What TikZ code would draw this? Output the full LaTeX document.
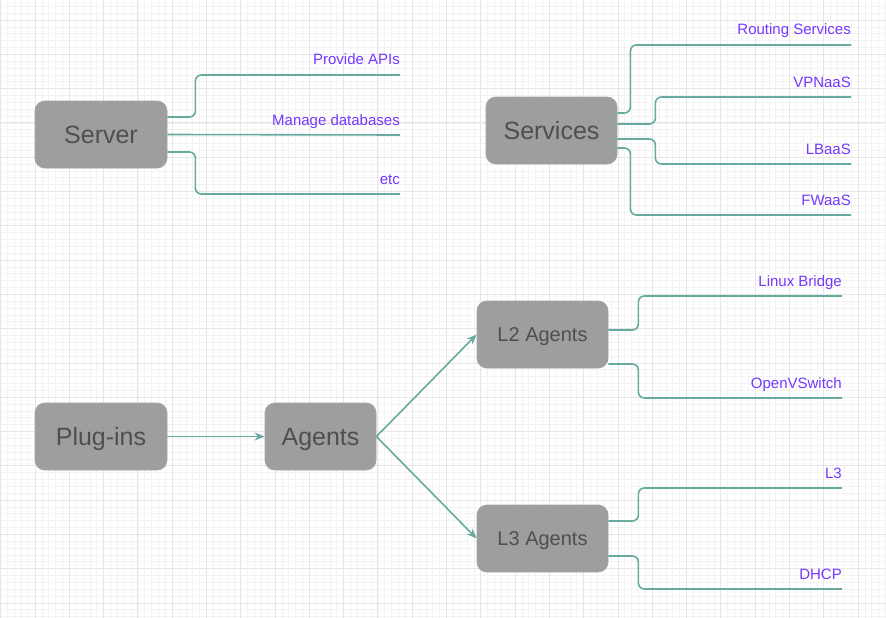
\documentclass[tikz,border=0pt]{standalone}
\usepackage{fontspec}
\setmainfont{Liberation Sans}
\usetikzlibrary{arrows.meta}
\definecolor{linkgreen}{HTML}{67AB9F}
\definecolor{labelpurple}{HTML}{7438FF}
\definecolor{boxgray}{HTML}{9E9E9E}
\definecolor{boxedge}{HTML}{A4A4A4}
\definecolor{boxtext}{HTML}{4F4F4F}
\definecolor{minorline}{HTML}{F3F3F3}
\definecolor{majorline}{HTML}{E6E6E6}

\begin{document}
\begin{tikzpicture}[x=1pt, y=-1pt,
        box/.style={draw=boxedge, fill=boxgray, rounded corners=10pt, line width=0.8pt,
            minimum width=132pt, minimum height=67pt, inner sep=0pt,
            text height=18pt, text depth=0pt,
            text=boxtext, font=\fontsize{25}{30}\selectfont},
        small/.style={font=\fontsize{20}{24}\selectfont, text height=14.3pt},
        branch/.style={draw=linkgreen, line width=1.6pt, rounded corners=6pt},
        link/.style={draw=linkgreen, line width=1.6pt, -{Stealth[length=10pt, width=8pt]}},
        leaf/.style={text=labelpurple, font=\fontsize{15}{18}\selectfont, anchor=base east, inner sep=0pt}]
        \useasboundingbox (0, 0) rectangle (886, 618);
        \fill[white] (0, 0) rectangle (886, 618);
        \foreach \i in {0,...,129}
            \draw[minorline, line width=0.6pt] ({0.7+\i*6.858}, 0) -- ({0.7+\i*6.858}, 618);
        \foreach \i in {0,...,89}
            \draw[minorline, line width=0.6pt] (0, {6.27+\i*6.858}) -- (886, {6.27+\i*6.858});
        \foreach \i in {0,...,25}
            \draw[majorline, line width=0.8pt] ({0.7+\i*34.29}, 0) -- ({0.7+\i*34.29}, 618);
        \foreach \i in {0,...,17}
            \draw[majorline, line width=0.8pt] (0, {20+\i*34.29}) -- (886, {20+\i*34.29});

        \node[box] (server) at (101, 134.5) {Server};
        \node[box, minimum width=131pt] (services) at (551.5, 130.5) {Services};
        \node[box] (plugins) at (101, 436.5) {Plug-ins};
        \node[box, minimum width=111pt] (agents) at (320.5, 436.5) {Agents};
        \node[box, small, minimum width=131pt] (ltwo) at (542.5, 334.5) {L2 Agents};
        \node[box, small, minimum width=131pt] (lthree) at (542.5, 538.5) {L3 Agents};

        \coordinate (apis) at (400, 75);
        \coordinate (databases) at (400, 135);
        \coordinate (etc) at (400, 194);
        \coordinate (routing) at (851, 45);
        \coordinate (vpnaas) at (851, 97);
        \coordinate (lbaas) at (851, 164);
        \coordinate (fwaas) at (851, 215);
        \coordinate (bridge) at (842, 296);
        \coordinate (ovswitch) at (842, 398);
        \coordinate (lthreeleaf) at (842, 488);
        \coordinate (dhcp) at (842, 589);

        \draw[branch] ([yshift=17.5pt]server.east) -- ++(28, 0) |- (apis);
        \draw[branch] (server.east) -- (databases);
        \draw[branch] ([yshift=-17.5pt]server.east) -- ++(28, 0) |- (etc);

        \draw[branch] ([yshift=17.5pt]services.east) -- ++(13, 0) |- (routing);
        \draw[branch] ([yshift=6.5pt]services.east) -- ++(38, 0) |- (vpnaas);
        \draw[branch] ([yshift=-8.5pt]services.east) -- ++(38, 0) |- (lbaas);
        \draw[branch] ([yshift=-17.5pt]services.east) -- ++(13, 0) |- (fwaas);

        \draw[branch] ([yshift=4.5pt]ltwo.east) -- ++(30, 0) |- (bridge);
        \draw[branch] ([yshift=-29.5pt]ltwo.east) -- ++(30, 0) |- (ovswitch);
        \draw[branch] ([yshift=17.5pt]lthree.east) -- ++(30, 0) |- (lthreeleaf);
        \draw[branch] ([yshift=-17.5pt]lthree.east) -- ++(30, 0) |- (dhcp);

        \draw[link] (plugins) -- (agents);
        \draw[link] (agents.east) -- (ltwo.west);
        \draw[link] (agents.east) -- (lthree.west);

        \node[leaf] (apistext) at ([yshift=10pt]apis) {Provide APIs};
        \node[leaf] (databasestext) at ([yshift=10pt]databases) {Manage databases};
        \node[leaf] (etctext) at ([yshift=10pt]etc) {etc};
        \node[leaf] (routingtext) at ([yshift=10pt]routing) {Routing Services};
        \node[leaf] (vpnaastext) at ([yshift=10pt]vpnaas) {VPNaaS};
        \node[leaf] (lbaastext) at ([yshift=10pt]lbaas) {LBaaS};
        \node[leaf] (fwaastext) at ([yshift=10pt]fwaas) {FWaaS};
        \node[leaf] (bridgetext) at ([yshift=10pt]bridge) {Linux Bridge};
        \node[leaf] (ovswitchtext) at ([yshift=10pt]ovswitch) {OpenVSwitch};
        \node[leaf] (lthreetext) at ([yshift=10pt]lthreeleaf) {L3};
        \node[leaf] (dhcptext) at ([yshift=10pt]dhcp) {DHCP};
    \end{tikzpicture}
\end{document}
